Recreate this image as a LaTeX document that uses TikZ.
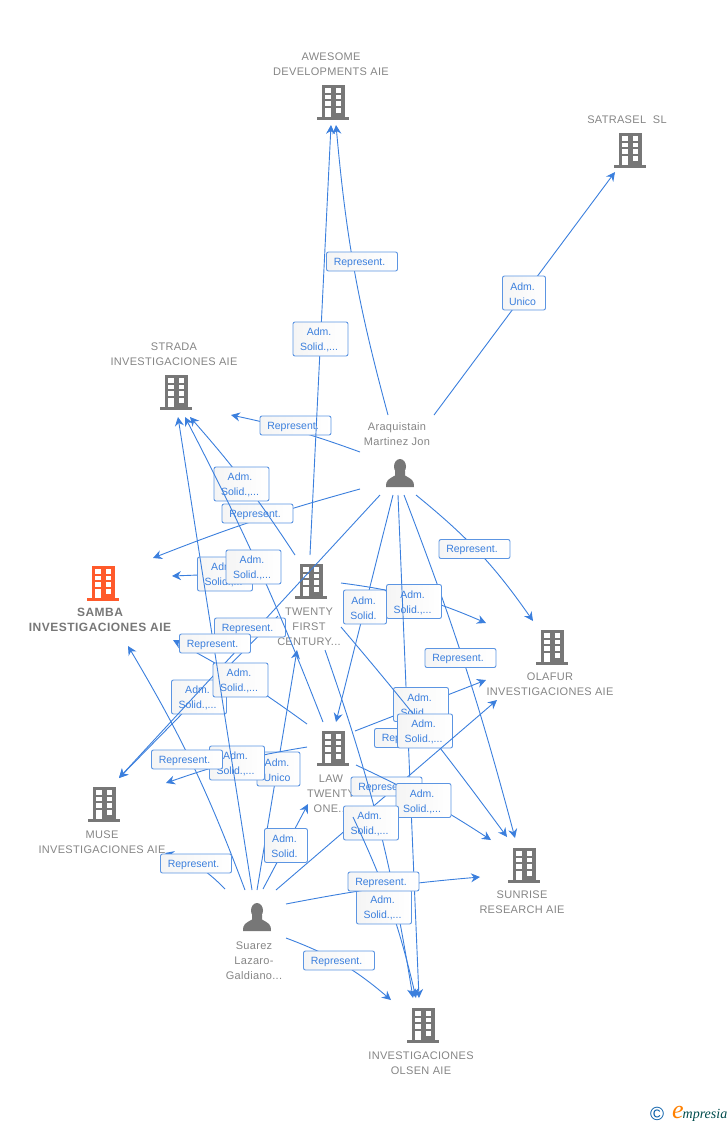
\documentclass[tikz,border=0pt]{standalone}
\usepackage{fontspec}
\usetikzlibrary{arrows.meta,positioning}
\setmainfont{Liberation Sans}
\newfontfamily\lblfont[LetterSpace=2.8]{Liberation Sans}
\newfontfamily\mainlblfont[LetterSpace=4]{Liberation Sans}
\newfontfamily\logofont{Liberation Serif}
\definecolor{linkblue}{HTML}{3B7FDD}
\definecolor{boxblue}{HTML}{5C95E2}
\definecolor{iconA}{HTML}{777777}
\definecolor{iconB}{HTML}{FF5A2B}
\definecolor{lblgray}{HTML}{858585}

\tikzset{
    link/.style={draw=linkblue, line width=0.9pt, -{Stealth[length=9pt,width=9pt,inset=3pt]}},
    tag/.style={draw=boxblue, line width=0.9pt, rounded corners=2pt, inner sep=0pt,
        left color=black!4, right color=white, minimum height=19pt},
    tagtext/.style={inner sep=0pt, text=linkblue, align=center, yshift=-1pt,
        font=\fontsize{10.5}{15}\selectfont},
    reptag/.style={tag, minimum width=71pt},
    soltag/.style={tag, minimum width=55pt, minimum height=34pt},
    admtag/.style={tag, minimum width=43pt, minimum height=34pt},
    reptagtext/.style={tagtext, xshift=-2.5pt},
    soltagtext/.style={tagtext, xshift=-1.5pt},
    admtagtext/.style={tagtext, xshift=-1.5pt},
    entity/.style={inner sep=0pt, align=center, text=lblgray, yshift=-1pt,
        font=\lblfont\fontsize{11}{15}\selectfont},
}

% building icon: name, x, y, colour
\newcommand{\bldg}[4]{
    \node[minimum width=31pt, minimum height=34pt, inner sep=0pt] (#1) at (#2,#3) {};
    \begin{scope}[shift={(#2,#3)}]
        \fill[#4] (-11.5,-17) rectangle (11.5,15);
        \fill[#4] (-16,15) rectangle (15.5,17.5);
        \foreach \wx in {-8,2.5} {
            \foreach \wy in {-14,-7.5,-1} {
                \fill[white] (\wx,\wy) rectangle (\wx+5.5,\wy+4.5);
            }
        }
        \fill[white] (-8,5.5) rectangle (-2.5,15);
        \fill[white] (2.5,5.5) rectangle (8,10.5);
    \end{scope}
}

% person icon: name, x, y
\newcommand{\persona}[3]{
    \node[minimum width=28pt, minimum height=28pt, inner sep=0pt] (#1) at (#2,#3) {};
    \begin{scope}[shift={(#2,#3)}]
        \fill[iconA] (0,-7.5) ellipse (6 and 7.5);
        \fill[iconA] (-14,13) .. controls (-14,6) and (-12,5.5) .. (-5,1.5)
            -- (-5,-3) -- (5,-3) -- (5,1.5)
            .. controls (12,5.5) and (14,6) .. (14,13) -- cycle;
    \end{scope}
}

% connector with its tag: name, bend, from, to, tag style, tag place, text
\newcommand{\linkbox}[7]{
    \coordinate (#1-s) at (#3);
    \coordinate (#1-t) at (#4);
    \draw[link] (#1-s) to[#2] (#1-t);
    \node[#5, label={[#5text]center:{#7}}] (#1) at (#6) {};
}

\begin{document}
\begin{tikzpicture}[x=1pt, y=-1pt]
    \useasboundingbox (0,0) rectangle (728,1125);

    % Companies
    \bldg{awesome}{333}{102}{iconA}
    \bldg{satrasel}{630}{150}{iconA}
    \bldg{strada}{176}{392}{iconA}
    \bldg{samba}{103}{583}{iconB}
    \bldg{twenty}{311}{581}{iconA}
    \bldg{olafur}{552}{647}{iconA}
    \bldg{law}{333}{748}{iconA}
    \bldg{muse}{104}{804}{iconA}
    \bldg{sunrise}{524}{865}{iconA}
    \bldg{olsen}{423}{1025}{iconA}

    % People
    \persona{arq}{400}{474}
    \persona{suarez}{257}{918}

    % Names
    \node[entity] (awesome-name) at (331,63.5) {AWESOME\\DEVELOPMENTS AIE};
    \node[entity] (satrasel-name) at (627,119) {SATRASEL\ \ SL};
    \node[entity] (strada-name) at (174,353.5) {STRADA\\INVESTIGACIONES AIE};
    \node[entity, font=\mainlblfont\bfseries\fontsize{12}{15}\selectfont, text=iconA] (samba-name) at (100,618.5) {SAMBA\\INVESTIGACIONES AIE};
    \node[entity] (twenty-name) at (309,626) {TWENTY\\FIRST\\CENTURY...};
    \node[entity] (arq-name) at (397,433.5) {Araquistain\\Martinez Jon};
    \node[entity] (olafur-name) at (550,683.5) {OLAFUR\\INVESTIGACIONES AIE};
    \node[entity] (law-name) at (331,793) {LAW\\TWENTY\\ONE...};
    \node[entity] (muse-name) at (102,841.5) {MUSE\\INVESTIGACIONES AIE};
    \node[entity] (sunrise-name) at (522,901.5) {SUNRISE\\RESEARCH AIE};
    \node[entity] (olsen-name) at (421,1062.5) {INVESTIGACIONES\\OLSEN AIE};
    \node[entity] (suarez-name) at (254,960) {Suarez\\Lazaro-\\Galdiano...};

    % Links from Araquistain
    \linkbox{arq-strada}{bend right=4}{360,452}{231,415}{reptag}{295.5,425.5}{Represent.}
    \linkbox{arq-awesome}{bend left=5}{388,415}{336,125}{reptag}{362,261.5}{Represent.}
    \linkbox{arq-satrasel}{bend left=0}{434,415}{615,172}{admtag}{524,293}{Adm.\\Unico}
    \linkbox{arq-samba}{bend right=3}{360,489}{153,558}{reptag}{257.5,513.5}{Represent.}
    \linkbox{arq-olafur}{bend left=8}{416,495}{533,621}{reptag}{474.5,549}{Represent.}
    \linkbox{arq-sunrise}{bend left=3}{404,495}{515,838}{reptag}{460.5,658}{Represent.}

    % Links from Twenty First
    \linkbox{twenty-muse}{bend left=0}{278,616}{119,778}{soltag}{199,697}{Adm.\\Solid.,...}
    \linkbox{arq-muse}{bend left=0}{380,495}{119,778}{reptag}{250,627.5}{Represent.}
    \linkbox{twenty-awesome}{bend left=0}{310,555}{331,125}{soltag}{320.5,339}{Adm.\\Solid.,...}
    \linkbox{arq-law}{bend left=0}{393,495}{336,722}{admtag}{365,607}{Adm.\\Solid.}
    \linkbox{twenty-olafur}{bend left=8}{341,583}{486,623}{soltag}{414,601.5}{Adm.\\Solid.,...}
    \linkbox{arq-olsen}{bend left=0}{398,495}{419,998}{reptag}{410,738}{Represent.}
    \linkbox{twenty-samba}{bend left=0}{278,572}{172,576}{soltag}{225,574}{Adm.\\Solid.,...}
    \linkbox{twenty-strada}{bend right=4}{295,555}{190,417}{soltag}{241.5,484}{Adm.\\Solid.,...}

    % Links from Law
    \linkbox{law-strada}{bend right=3}{323,722}{185,417}{soltag}{253.5,567}{Adm.\\Solid.,...}
    \linkbox{law-samba}{bend right=4}{307,724}{173,640}{soltag}{240.5,680}{Adm.\\Solid.,...}
    \linkbox{law-olafur}{bend left=0}{355,731}{486,680}{soltag}{421,704.5}{Adm.\\Solid.,...}
    \linkbox{twenty-sunrise}{bend left=2}{341,627}{507,837}{soltag}{425,731}{Adm.\\Solid.,...}
    \linkbox{suarez-olafur}{bend left=0}{276,890}{497,700}{reptag}{386.5,786.5}{Represent.}
    \linkbox{law-sunrise}{bend left=4}{356,765}{491,840}{soltag}{423.5,800.5}{Adm.\\Solid.,...}
    \linkbox{twenty-olsen}{bend left=5}{325,650}{413,998}{soltag}{371,823}{Adm.\\Solid.,...}
    \linkbox{law-olsen}{bend left=6}{353,817}{416,998}{soltag}{384,907}{Adm.\\Solid.,...}

    % Links from Suarez
    \linkbox{suarez-twenty}{bend left=0}{257,890}{297,650}{admtag}{278.5,769}{Adm.\\Unico}
    \linkbox{law-muse}{bend right=5}{307,747}{166,783}{soltag}{237,763}{Adm.\\Solid.,...}
    \linkbox{suarez-samba}{bend right=5}{245,890}{128,646}{reptag}{187,759.5}{Represent.}
    \linkbox{suarez-strada}{bend left=0}{252,890}{178,417}{reptag}{215,643.5}{Represent.}
    \linkbox{suarez-muse}{bend right=15}{225,889}{165,853}{reptag}{196,863.5}{Represent.}
    \linkbox{suarez-law}{bend left=0}{263,889}{308,804}{admtag}{286,845.5}{Adm.\\Solid.}
    \linkbox{suarez-sunrise}{bend left=3}{286,904}{480,877}{reptag}{383.5,881.5}{Represent.}
    \linkbox{suarez-olsen}{bend left=10}{286,938}{391,1000}{reptag}{339,960.5}{Represent.}

    % Logo
    \node[inner sep=0pt, text=teal!70!blue, font=\fontsize{19}{19}\selectfont] (logo-c) at (657,1114) {\textcopyright};
    \node[inner sep=0pt, text=orange, font=\logofont\itshape\fontsize{26}{26}\selectfont] (logo-e) at (678,1112) {e};
    \node[inner sep=0pt, text=teal!60!black, font=\logofont\itshape\fontsize{14}{14}\selectfont] (logo-t) at (705,1115) {mpresia};
\end{tikzpicture}
\end{document}
